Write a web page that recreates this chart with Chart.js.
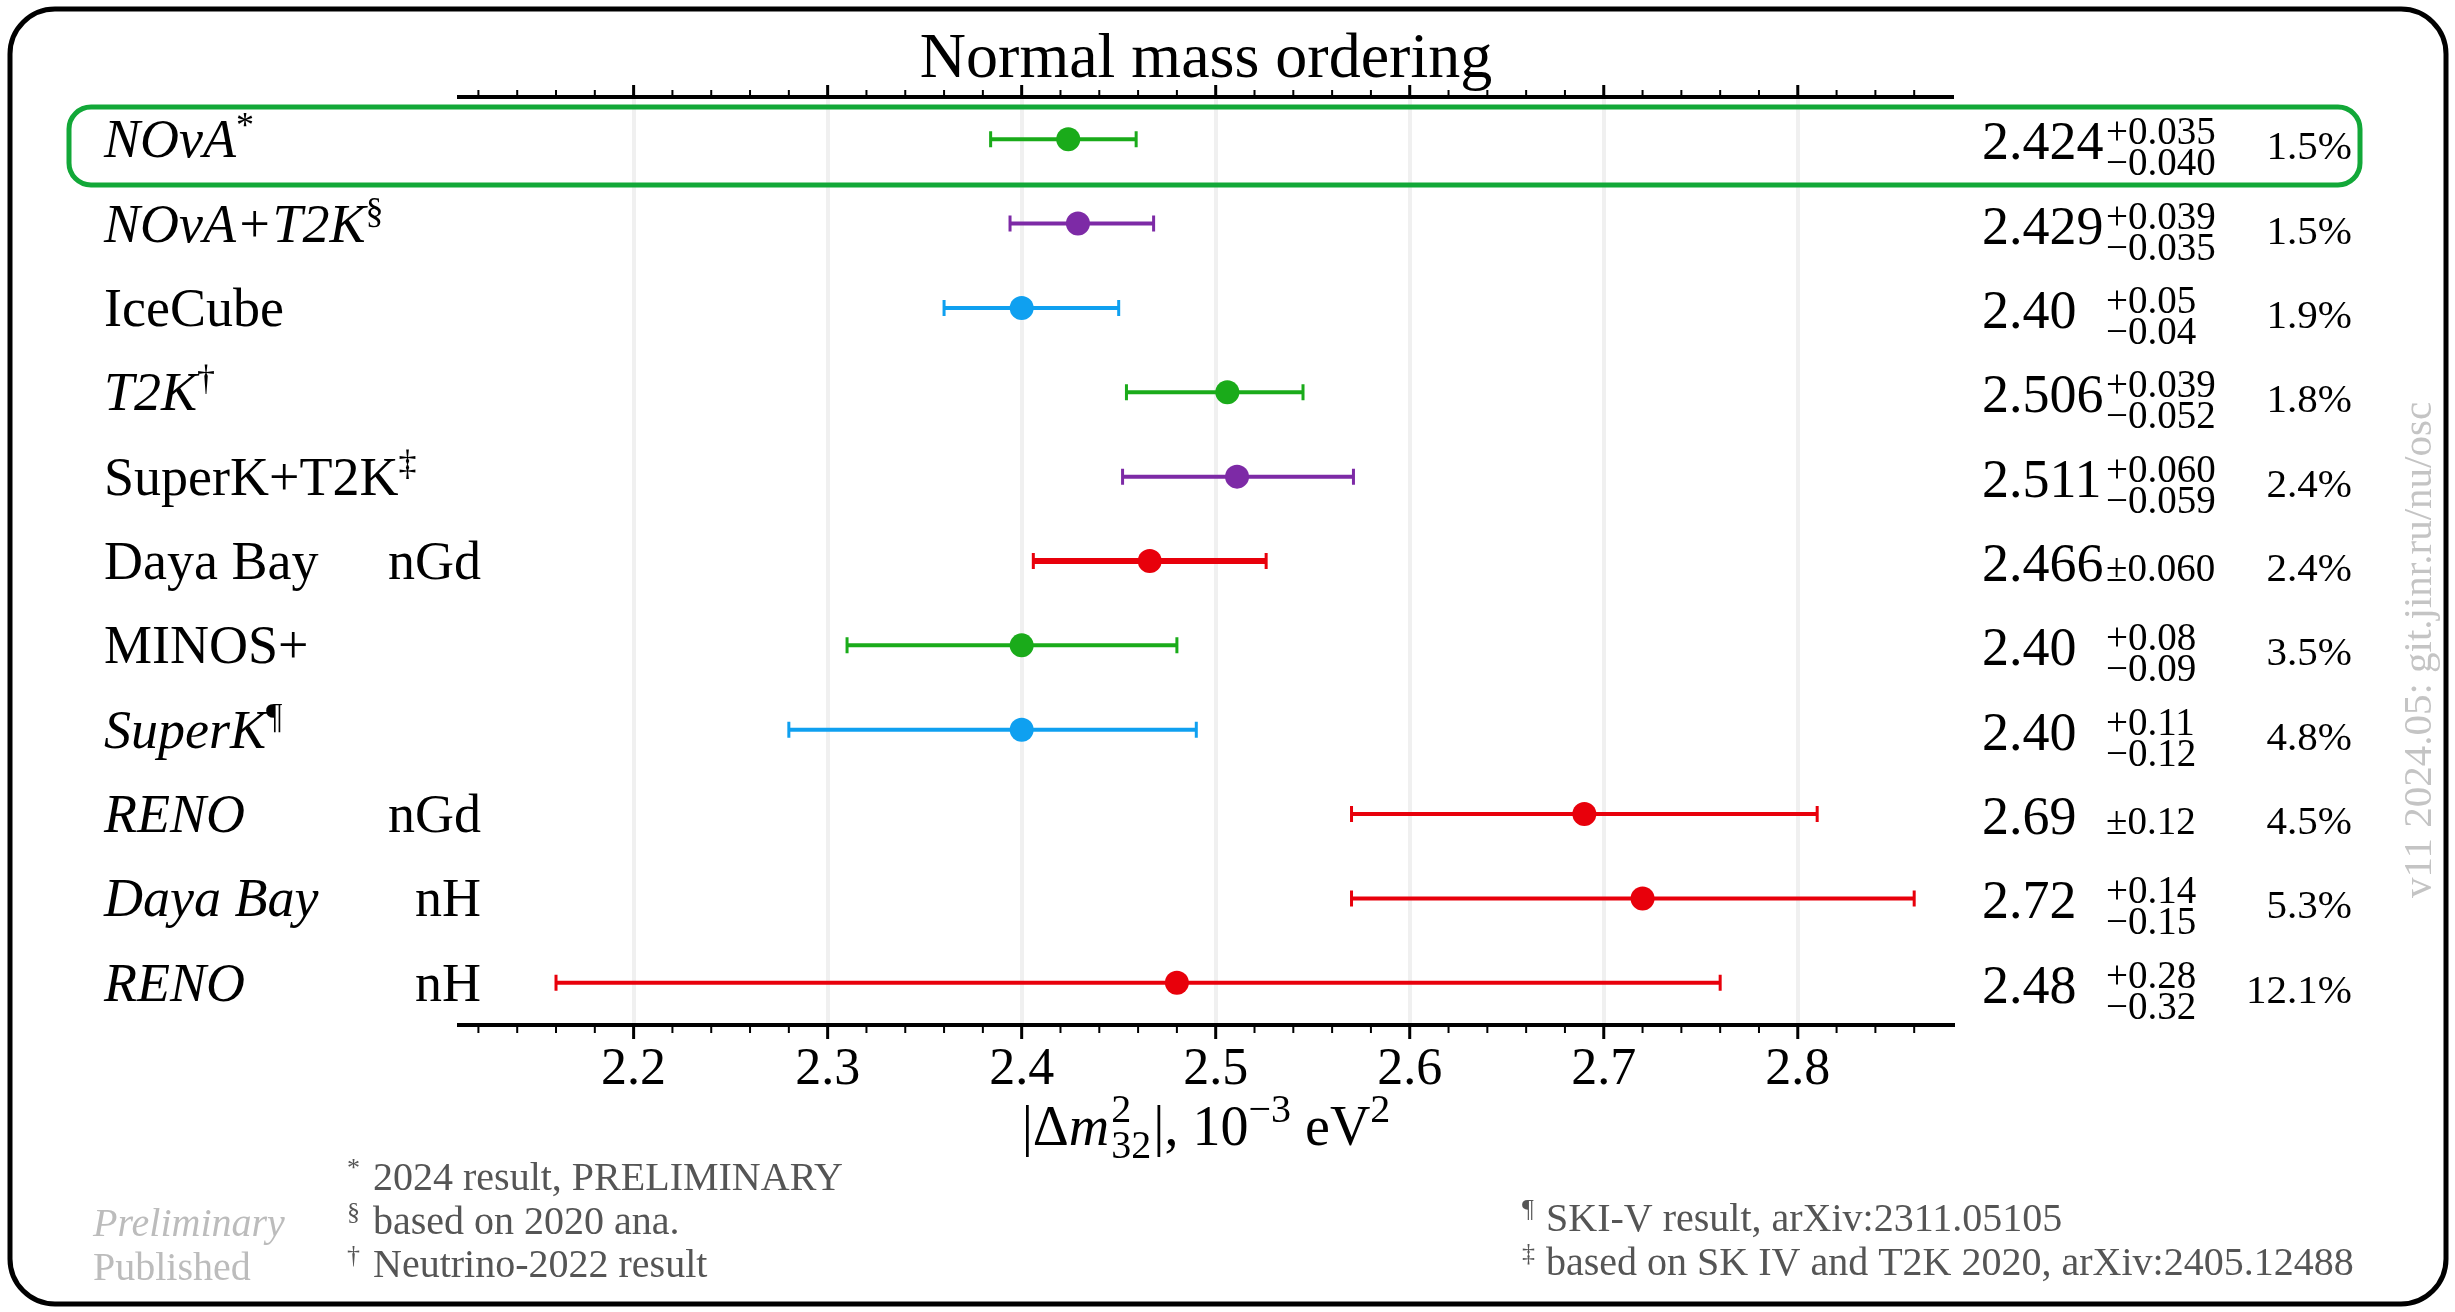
<!DOCTYPE html>
<html>
<head>
<meta charset="utf-8">
<script src="https://cdn.jsdelivr.net/npm/chart.js@4.4.0/dist/chart.umd.min.js"></script>
<style>
  html, body { margin: 0; padding: 0; background: #fff; }
  canvas { display: block; }
</style>
</head>
<body>
<canvas id="massChart" width="2455" height="1312"></canvas>
<script>
// --- data ---
const experiments = ['NOvA', 'NOvA+T2K', 'IceCube', 'T2K', 'SuperK+T2K', 'Daya Bay', 'MINOS+', 'SuperK', 'RENO', 'Daya Bay', 'RENO'];
const italicName = [true, true, false, true, false, false, false, true, true, true, true];
const nameMarks = ['*', '§', '', '†', '‡', '', '', '¶', '', '', ''];
const channels = ['', '', '', '', '', 'nGd', '', '', 'nGd', 'nH', 'nH'];
const centralValues = [2.424, 2.429, 2.40, 2.506, 2.511, 2.466, 2.40, 2.40, 2.69, 2.72, 2.48];
// bar ends as drawn (SuperK's right arm stops short of its quoted +0.11)
const errorsUp = [0.035, 0.039, 0.05, 0.039, 0.060, 0.060, 0.08, 0.09, 0.12, 0.14, 0.28];
const errorsDown = [0.040, 0.035, 0.04, 0.052, 0.059, 0.060, 0.09, 0.12, 0.12, 0.15, 0.32];
const valueLabels = ['2.424', '2.429', '2.40', '2.506', '2.511', '2.466', '2.40', '2.40', '2.69', '2.72', '2.48'];
const upLabels = ['+0.035', '+0.039', '+0.05', '+0.039', '+0.060', '', '+0.08', '+0.11', '', '+0.14', '+0.28'];
const downLabels = ['−0.040', '−0.035', '−0.04', '−0.052', '−0.059', '', '−0.09', '−0.12', '', '−0.15', '−0.32'];
const symLabels = ['', '', '', '', '', '±0.060', '', '', '±0.12', '', ''];
const precisions = ['1.5%', '1.5%', '1.9%', '1.8%', '2.4%', '2.4%', '3.5%', '4.8%', '4.5%', '5.3%', '12.1%'];
const xTicks = [2.2, 2.3, 2.4, 2.5, 2.6, 2.7, 2.8];
const notesLeft = [['*', '2024 result, PRELIMINARY'], ['§', 'based on 2020 ana.'], ['†', 'Neutrino-2022 result']];
const notesRight = [['¶', 'SKI-V result, arXiv:2311.05105'], ['‡', 'based on SK IV and T2K 2020, arXiv:2405.12488']];

// --- styles ---
const GREEN = '#1aab1a', PURPLE = '#7d2aa6', BLUE = '#0fa0f0', RED = '#e8000b';
const markColors = [GREEN, PURPLE, BLUE, GREEN, PURPLE, RED, GREEN, BLUE, RED, RED, RED];
const FONT = "'Liberation Serif', 'DejaVu Serif', serif";
const font = (size, italic) => (italic ? 'italic ' : '') + size + 'px ' + FONT;

function drawParts(ctx, parts, x, y, align) {
    let total = 0;
    const widths = parts.map(p => {
        ctx.font = font(p.size, p.italic);
        const w = p.stack ? Math.max(...p.stack.map(s => ctx.measureText(s.text).width)) : ctx.measureText(p.text).width;
        total += w + (p.gap || 0);
        return w;
    });
    let cx = align === 'center' ? x - total / 2 : align === 'right' ? x - total : x;
    parts.forEach((p, i) => {
        ctx.font = font(p.size, p.italic);
        if (p.stack) p.stack.forEach(s => ctx.fillText(s.text, cx, y + s.dy));
        else ctx.fillText(p.text, cx, y + (p.dy || 0));
        cx += widths[i] + (p.gap || 0);
    });
}

function roundRect(ctx, x, y, w, h, r) {
    ctx.beginPath();
    ctx.moveTo(x + r, y);
    ctx.arcTo(x + w, y, x + w, y + h, r);
    ctx.arcTo(x + w, y + h, x, y + h, r);
    ctx.arcTo(x, y + h, x, y, r);
    ctx.arcTo(x, y, x + w, y, r);
    ctx.closePath();
}

const forestPlugin = {
    id: 'forest',
    beforeDatasetsDraw(chart) {
        const { ctx, scales: { x, y } } = chart;
        ctx.save();
        centralValues.forEach((v, i) => {
            const py = y.getPixelForValue(i + 1);
            const x0 = x.getPixelForValue(v - errorsDown[i]);
            const x1 = x.getPixelForValue(v + errorsUp[i]);
            ctx.strokeStyle = markColors[i];
            ctx.lineWidth = i === 5 ? 6 : 4;
            ctx.beginPath();
            ctx.moveTo(x0, py); ctx.lineTo(x1, py);
            ctx.stroke();
            ctx.lineWidth = 3;
            ctx.beginPath();
            ctx.moveTo(x0, py - 8); ctx.lineTo(x0, py + 8);
            ctx.moveTo(x1, py - 8); ctx.lineTo(x1, py + 8);
            ctx.stroke();
        });
        ctx.restore();
    },
    afterDraw(chart) {
        const { ctx, chartArea: area, scales: { x, y } } = chart;
        ctx.save();
        ctx.textAlign = 'left';
        ctx.textBaseline = 'alphabetic';

        // frame
        ctx.strokeStyle = '#000';
        ctx.lineWidth = 5;
        roundRect(ctx, 10, 9, 2436, 1295, 45);
        ctx.stroke();

        // highlight box around the first row
        ctx.strokeStyle = '#12a838';
        ctx.lineWidth = 5;
        roundRect(ctx, 69, 107, 2291, 78, 22);
        ctx.stroke();

        // minor and major tick marks on both axes
        ctx.strokeStyle = '#000';
        for (let k = 106; k <= 143; k++) {
            const px = x.getPixelForValue(k * 0.02);
            const major = k % 5 === 0;
            ctx.lineWidth = major ? 3 : 2;
            ctx.beginPath();
            ctx.moveTo(px, area.top); ctx.lineTo(px, area.top - (major ? 12 : 7));
            ctx.moveTo(px, area.bottom); ctx.lineTo(px, area.bottom + (major ? 14 : 8));
            ctx.stroke();
        }

        // title
        ctx.fillStyle = '#000';
        ctx.font = font(64);
        ctx.textAlign = 'center';
        ctx.fillText('Normal mass ordering', (area.left + area.right) / 2, 77);
        ctx.textAlign = 'left';

        // row labels and numbers
        experiments.forEach((name, i) => {
            const yc = y.getPixelForValue(i + 1);
            const base = yc + 18;
            ctx.fillStyle = '#000';
            const parts = [{ text: name, size: 54, italic: italicName[i] }];
            if (nameMarks[i]) parts.push({ text: nameMarks[i], size: 36, dy: -20 });
            drawParts(ctx, parts, 104, base, 'left');
            if (channels[i]) drawParts(ctx, [{ text: channels[i], size: 54 }], 481, base, 'right');

            drawParts(ctx, [{ text: valueLabels[i], size: 54 }], 1982, base + 2, 'left');
            if (symLabels[i]) {
                drawParts(ctx, [{ text: symLabels[i], size: 39 }], 2106, base + 2, 'left');
            } else {
                drawParts(ctx, [{ text: upLabels[i], size: 39 }], 2106, yc + 5, 'left');
                drawParts(ctx, [{ text: downLabels[i], size: 39 }], 2106, yc + 36, 'left');
            }
            drawParts(ctx, [{ text: precisions[i], size: 41 }], 2352, base + 2, 'right');
        });

        // axis title |Δm²₃₂|, 10⁻³ eV²
        drawParts(ctx, [
            { text: '|Δ', size: 56 },
            { text: 'm', size: 56, italic: true, gap: 2 },
            { size: 40, stack: [{ text: '2', dy: -23 }, { text: '32', dy: 13 }], gap: 2 },
            { text: '|, 10', size: 56 },
            { text: '−3', size: 40, dy: -23 },
            { text: ' eV', size: 56 },
            { text: '2', size: 40, dy: -23 }
        ], (area.left + area.right) / 2, 1145, 'center');

        // footnotes
        ctx.fillStyle = '#555';
        notesLeft.forEach((n, i) => {
            const by = 1190 + i * 43.5;
            drawParts(ctx, [{ text: n[0], size: 26, dy: -14 }], 347, by, 'left');
            drawParts(ctx, [{ text: n[1], size: 40 }], 373, by, 'left');
        });
        notesRight.forEach((n, i) => {
            const by = 1231 + i * 44;
            drawParts(ctx, [{ text: n[0], size: 26, dy: -14 }], 1522, by, 'left');
            drawParts(ctx, [{ text: n[1], size: 40 }], 1546, by, 'left');
        });
        ctx.fillStyle = '#bcbcbc';
        drawParts(ctx, [{ text: 'Preliminary', size: 40, italic: true }], 93, 1236, 'left');
        drawParts(ctx, [{ text: 'Published', size: 40 }], 93, 1280, 'left');

        // version stamp
        ctx.translate(2420, 650);
        ctx.rotate(-Math.PI / 2);
        ctx.textAlign = 'center';
        ctx.textBaseline = 'middle';
        ctx.fillStyle = '#c4c4c4';
        ctx.font = font(41);
        ctx.fillText('v11 2024.05: git.jinr.ru/nu/osc', 0, 0);
        ctx.restore();
    }
};

const ctx = document.getElementById('massChart').getContext('2d');
new Chart(ctx, {
    type: 'scatter',
    data: {
        datasets: [{
            data: centralValues.map((v, i) => ({ x: v, y: i + 1 })),
            pointBackgroundColor: markColors,
            pointBorderWidth: 0,
            pointRadius: 12,
            pointHoverRadius: 12
        }]
    },
    options: {
        responsive: false,
        animation: false,
        layout: { padding: { left: 459, right: 502, top: 0, bottom: 0 } },
        plugins: { legend: { display: false }, tooltip: { enabled: false } },
        scales: {
            x: {
                type: 'linear', position: 'bottom', min: 2.11, max: 2.88,
                afterBuildTicks: scale => { scale.ticks = xTicks.map(v => ({ value: v })); },
                afterFit: scale => { scale.height = 287; },
                grid: { color: '#f0f0f0', lineWidth: 4, drawTicks: false },
                border: { display: true, color: '#000', width: 4 },
                ticks: {
                    color: '#000', padding: 14,
                    font: { family: FONT, size: 52 },
                    callback: v => Number(v).toFixed(1)
                }
            },
            xTop: {
                type: 'linear', position: 'top', min: 2.11, max: 2.88,
                afterFit: scale => { scale.height = 97; },
                grid: { display: false },
                border: { display: true, color: '#000', width: 4 },
                ticks: { display: false }
            },
            y: { type: 'linear', min: 0.5, max: 11.5, reverse: true, display: false }
        }
    },
    plugins: [forestPlugin]
});
</script>
</body>
</html>
